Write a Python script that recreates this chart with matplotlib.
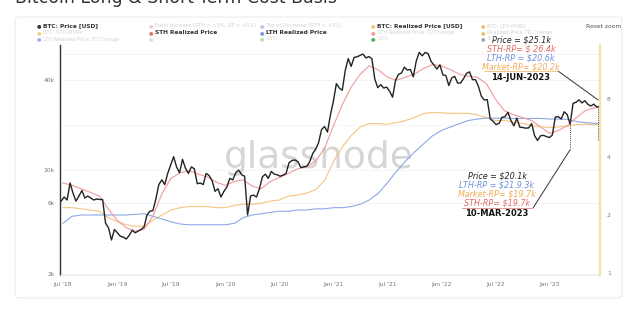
import numpy as np
import pandas as pd
import matplotlib.pyplot as plt
from matplotlib.patches import FancyBboxPatch

# BTC price, 10-day steps from 2018-06-25 to 2023-06-19 (thousand USD)
price = [
    6.2, 6.6, 6.3, 8.2, 7.0, 6.2, 6.7, 7.3, 6.5, 6.7, 6.5, 6.3, 6.4, 6.35, 6.35, 4.4, 4.1, 3.4, 4.0,
    3.8, 3.6, 3.55, 3.45, 3.65, 3.95, 3.8, 3.9, 4.0, 4.15, 5.0, 5.3, 5.35, 6.4, 8.0, 8.6, 8.0, 9.5, 10.8,
    12.3, 10.5, 9.6, 11.8, 10.3, 9.5, 10.5, 10.2, 8.1, 8.2, 8.0, 9.5, 9.2, 8.5, 7.2, 7.5, 6.6, 7.2,
    7.7, 8.8, 8.6, 9.6, 10.0, 9.3, 9.1, 5.0, 6.7, 6.8, 6.6, 7.5, 9.0, 9.4, 8.8, 9.8, 9.4, 9.3, 9.1,
    9.25, 9.5, 11.2, 11.6, 11.7, 11.4, 10.4, 10.5, 10.6, 11.4, 12.9, 13.8, 15.3, 18.7, 19.6, 18.0, 23.5, 29.0,
    38.0, 35.5, 34.3, 46.5, 55.9, 49.6, 57.0, 57.5, 58.8, 60.0, 56.5, 57.7, 55.8, 40.7, 35.7, 37.4, 35.5,
    36.0, 33.8, 30.8, 40.0, 43.8, 44.8, 49.0, 46.8, 47.3, 42.2, 53.8, 61.5, 58.4, 61.5, 60.4, 53.6, 50.6,
    47.6, 50.8,
    43.5, 43.1, 36.9, 41.5, 42.5, 38.3, 38.4, 41.1, 44.5, 45.6, 40.4, 40.4, 36.5, 31.3, 29.5, 29.7, 22.1,
    21.2, 20.2, 20.6, 22.6, 22.8, 24.4, 21.5, 19.8, 22.3, 19.4, 19.3, 19.1, 19.2, 20.5, 17.0, 15.8, 17.0,
    17.1, 16.8, 16.5,
    17.2, 22.7, 22.8, 22.0, 24.6, 23.6, 20.3, 28.0, 28.5, 29.6, 28.2, 29.2, 27.6, 26.9, 27.7, 26.5, 26.8,
]

# monthly cost basis values Jul 2018 .. Jun 2023, plus the last day (thousand USD)
sth_rp = [
    8.2, 7.9, 7.5, 7.1, 6.7, 5.5,
    4.6, 4.1, 3.9, 4.0, 4.9, 7.0, 8.8, 9.6, 9.9, 9.4, 9.0, 8.3,
    7.9, 8.4, 8.6, 7.8, 7.5, 8.4, 8.9, 9.5, 10.2, 10.5, 11.5, 14.0,
    20.0, 28.0, 36.0, 44.0, 50.0, 47.0, 42.0, 40.0, 42.0, 44.0, 48.0, 51.0,
    50.0, 47.0, 44.0, 42.5, 42.0, 38.0, 30.0, 25.0, 23.5, 22.5, 21.5, 19.5,
    17.6, 18.5, 19.8, 22.5, 25.0, 26.2, 26.4,
]
lth_rp = [
    4.4, 4.9, 5.0, 5.0, 5.0, 5.0,
    5.0, 5.0, 5.05, 5.1, 4.9, 4.7, 4.5, 4.35, 4.3, 4.3, 4.3, 4.3,
    4.3, 4.4, 4.8, 5.0, 5.1, 5.2, 5.3, 5.3, 5.4, 5.4, 5.5, 5.5,
    5.6, 5.6, 5.7, 5.9, 6.3, 7.0, 8.2, 9.8, 11.5, 13.2, 15.0, 17.0,
    18.5, 19.5, 20.5, 21.5, 22.0, 22.3, 22.3, 22.3, 22.2, 22.2, 22.2, 22.2,
    22.0, 22.0, 21.9, 21.2, 20.8, 20.6, 20.6,
]
market_rp = [
    5.6, 5.6, 5.5, 5.4, 5.3, 4.8,
    4.5, 4.3, 4.2, 4.2, 4.6, 5.0, 5.4, 5.6, 5.7, 5.7, 5.7, 5.6,
    5.6, 5.8, 5.9, 5.9, 6.0, 6.2, 6.3, 6.7, 6.8, 7.0, 7.4, 8.5,
    11.5, 14.5, 17.0, 19.5, 20.5, 20.5, 20.3, 20.8, 21.5, 22.5, 24.0, 24.3,
    24.2, 24.0, 24.0, 24.0, 23.5, 22.5, 21.5, 21.5, 21.0, 20.6, 19.9, 19.5,
    19.3, 19.5, 19.7, 20.2, 20.3, 20.2, 20.2,
]

price_dates = pd.date_range("2018-06-25", periods=len(price), freq="10D")
rp_dates = list(pd.date_range("2018-07-01", "2023-06-01", freq="MS")) + [pd.Timestamp("2023-06-19")]

price = np.array(price) * 1000
sth_rp = np.array(sth_rp) * 1000
lth_rp = np.array(lth_rp) * 1000
market_rp = np.array(market_rp) * 1000

left_ticks = [2000, 6000, 10000, 40000]
left_labels = ["2k", "6k", "10k", "40k"]
right_ticks = [1, 2, 4, 8]
x_ticks = ["2018-07-01", "2019-01-01", "2019-07-01", "2020-01-01", "2020-07-01",
           "2021-01-01", "2021-07-01", "2022-01-01", "2022-07-01", "2023-01-01"]
x_labels = ["Jul '18", "Jan '19", "Jul '19", "Jan '20", "Jul '20",
            "Jan '21", "Jul '21", "Jan '22", "Jul '22", "Jan '23"]

c_price = "#222222"
c_sth = "#f19a9a"
c_lth = "#8ea8e6"
c_rp = "#f6c482"

fig = plt.figure(figsize=(6.4, 3.09), dpi=100)
W, H = 640, 309

# title, mostly cut off by the top edge
fig.text(15 / W, 1 - 3 / H, "Bitcoin Long & Short-Term Cost Basis", fontsize=12.5,
         color="#333333", ha="left", va="baseline")

# card behind the chart
card = FancyBboxPatch((15 / W, 1 - 298 / H), 607 / W, 281 / H,
                      boxstyle="round,pad=0,rounding_size=0.01", transform=fig.transFigure,
                      facecolor="white", edgecolor="#ececec", lw=0.8, zorder=-10)
fig.patches.append(card)

ax = fig.add_axes([60 / W, 1 - 275 / H, 540 / W, 230 / H])
ax.patch.set_alpha(0)
ax.set_yscale("log")
ax.set_ylim(1980, 69000)
ax.set_xlim(pd.Timestamp("2018-06-21"), pd.Timestamp("2023-06-20"))

ax.plot(rp_dates, market_rp, color=c_rp, lw=0.8, zorder=2)
ax.plot(rp_dates, lth_rp, color=c_lth, lw=0.8, zorder=2)
ax.plot(rp_dates, sth_rp, color=c_sth, lw=0.8, zorder=2)
ax.plot(price_dates, price, color=c_price, lw=1.0, zorder=3)

ax.set_yticks(left_ticks)
ax.set_yticklabels(left_labels)
ax.yaxis.set_minor_locator(plt.NullLocator())
ax.set_xticks([pd.Timestamp(d) for d in x_ticks])
ax.set_xticklabels(x_labels)
ax.tick_params(axis="both", length=0, labelsize=4.3, colors="#777777")
ax.tick_params(axis="x", pad=5)
ax.tick_params(axis="y", pad=4)
for yv in [2000, 6000, 10000, 20000, 40000, 60000]:
    ax.axhline(yv, color="#f2f2f2", lw=0.6, zorder=0)

for s in ["top", "right"]:
    ax.spines[s].set_visible(False)
ax.spines["left"].set_color("#333333")
ax.spines["left"].set_linewidth(1.0)
ax.spines["bottom"].set_color("#e8e8e8")
ax.spines["bottom"].set_linewidth(0.6)

ax2 = ax.twinx()
ax2.set_yscale("log", base=2)
ax2.set_ylim(0.976, 15.3)
ax2.set_yticks(right_ticks)
ax2.set_yticklabels([str(t) for t in right_ticks])
ax2.yaxis.set_minor_locator(plt.NullLocator())
ax2.tick_params(axis="y", length=0, labelsize=4.3, colors="#777777", pad=5)
for s in ["top", "left", "bottom"]:
    ax2.spines[s].set_visible(False)
ax2.spines["right"].set_color("#efe2a2")
ax2.spines["right"].set_linewidth(1.6)

# watermark
ax.text(0.48, 0.51, "glassnode", transform=ax.transAxes, fontsize=27, color="#d6d6d6",
        ha="center", va="center", zorder=1)

# annotation for 10-Mar-2023
d_mar = pd.Timestamp("2023-03-10")
ax.vlines(d_mar, 13600, 21900, colors="#555555", lw=0.7, linestyles=(0, (1, 1)), zorder=4)
ax.annotate("", xy=(d_mar, 13600), xytext=(533 / W, 1 - 208 / H), textcoords="figure fraction",
            arrowprops=dict(arrowstyle="-", color="#333333", lw=0.7, shrinkA=0, shrinkB=0))
bx = 497 / W
rows = [("Price = $20.1k", "#222222", 176), ("LTH-RP = $21.9.3k", "#6f8fdc", 185),
        ("Market-RP= $19.7k", "#f2ad55", 194), ("STH-RP= $19.7k", "#e26a6a", 203)]
for txt, col, yy in rows:
    fig.text(bx, 1 - yy / H, txt, fontsize=5.8, style="italic", color=col, ha="center", va="center")
fig.text(bx, 1 - 213 / H, "10-MAR-2023", fontsize=6, fontweight="bold", color="#111111",
         ha="center", va="center")
fig.add_artist(plt.Line2D([462 / W, 532 / W], [1 - 208 / H, 1 - 208 / H], color="#e26a6a", lw=0.5))

# annotation for 14-Jun-2023
d_jun = pd.Timestamp("2023-06-14")
ax.vlines(d_jun, 15900, 26400, colors="#555555", lw=0.7, linestyles=(0, (1, 1)), zorder=4)
ax.annotate("", xy=(d_jun, 29500), xytext=(558 / W, 1 - 71 / H), textcoords="figure fraction",
            arrowprops=dict(arrowstyle="-", color="#333333", lw=0.7, shrinkA=0, shrinkB=0))
tx = 521 / W
rows = [("Price = $25.1k", "#222222", 40), ("STH-RP= $ 26.4k", "#e26a6a", 49),
        ("LTH-RP = $20.6k", "#6f8fdc", 58), ("Market-RP= $20.2k", "#f2ad55", 67)]
for txt, col, yy in rows:
    fig.text(tx, 1 - yy / H, txt, fontsize=5.8, style="italic", color=col, ha="center", va="center")
fig.text(tx, 1 - 77 / H, "14-JUN-2023", fontsize=6, fontweight="bold", color="#111111",
         ha="center", va="center")
fig.add_artist(plt.Line2D([484 / W, 558 / W], [1 - 71 / H, 1 - 71 / H], color="#f2ad55", lw=0.5))

# legend (inactive items are faded)
legend_items = [
    (39, 26, "BTC: Price [USD]", "#333333", True),
    (39, 32.5, "BTC: STH-MVRV", "#f0d27a", False),
    (39, 39, "LTH Realized Price 7D Change", "#9db4ea", False),
    (151, 26, "Band Increase (STH > +5%, RP > +5%)", "#f6c9c9", False),
    (151, 32.5, "STH Realized Price", "#e8706e", True),
    (151, 39, "~", "#dddddd", False),
    (262, 26, "Top of Decrease (STH < +5%)", "#b8c8ef", False),
    (262, 32.5, "LTH Realized Price", "#7796e0", True),
    (262, 39, "+5%", "#b9e0a8", False),
    (373, 26, "BTC: Realized Price [USD]", "#f6c482", True),
    (373, 32.5, "STH Realized Price 7D Change", "#ef9a9a", False),
    (373, 39, "+5%", "#4cae4c", False),
    (483, 26, "BTC: LTH-MVRV", "#f3bb77", False),
    (483, 32.5, "Realized Price 7D Change", "#f3bb77", False),
    (483, 39, "-5%", "#aaaaaa", False),
]
for lx, ly, txt, col, active in legend_items:
    fig.text(lx / W, 1 - ly / H, "\u25cf", fontsize=3.8, color=col, ha="center", va="center")
    fig.text((lx + 4) / W, 1 - ly / H, txt, fontsize=3.7 if not active else 4.2,
             color="#333333" if active else "#d2d2d2",
             fontweight="bold" if active else "normal", ha="left", va="center")

fig.text(604 / W, 1 - 26 / H, "Reset zoom", fontsize=4.3, color="#555555", ha="center", va="center")

fig.savefig("out.png", dpi=100, facecolor="white")
